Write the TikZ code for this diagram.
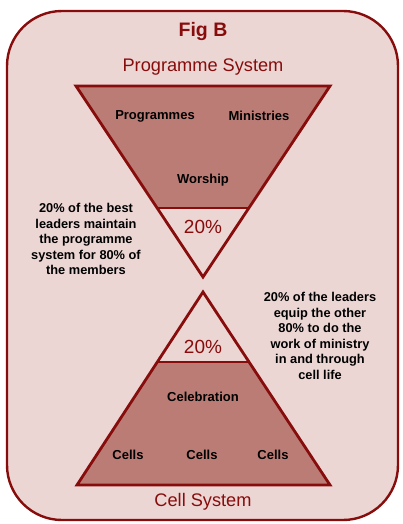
\documentclass[tikz,border=0pt]{standalone}
\usepackage{fontspec}
\setmainfont{Liberation Sans}
\definecolor{framered}{RGB}{135,12,12}
\definecolor{paper}{RGB}{236,214,212}
\definecolor{band}{RGB}{188,124,118}
\begin{document}
\begin{tikzpicture}[x=1pt,y=-1pt,
  title/.style={text=framered,font=\bfseries\fontsize{19.5}{21}\selectfont},
  system/.style={text=framered,font=\fontsize{18.2}{20}\selectfont},
  pct/.style={text=framered,font=\fontsize{19}{21}\selectfont},
  label/.style={text=black,font=\bfseries\fontsize{13}{15.5}\selectfont},
  note/.style={text=black,font=\bfseries\fontsize{12.8}{15.5}\selectfont,align=center},
  outline/.style={draw=framered,line width=2.8pt,line join=miter}]
\useasboundingbox (0,0) rectangle (403,524);
% outer frame
\draw[draw=framered,fill=paper,line width=2.4pt,rounded corners=55pt] (7,11) rectangle (398,520);

% programme system funnel (inverted triangle)
\coordinate (tl) at (76,86);
\coordinate (tr) at (330,86);
\coordinate (tapex) at (203,277);
\coordinate (tdl) at (157.5,208);
\coordinate (tdr) at (248.5,208);
\fill[band] (tl) -- (tr) -- (tdr) -- (tdl) -- cycle;
\draw[outline] (tl) -- (tr) -- (tapex) -- cycle;
\draw[outline] (tdl) -- (tdr);

% cell system pyramid
\coordinate (bapex) at (203,292);
\coordinate (bl) at (77,485);
\coordinate (br) at (330,485);
\coordinate (bdl) at (157.5,362);
\coordinate (bdr) at (248.5,362);
\fill[band] (bdl) -- (bdr) -- (br) -- (bl) -- cycle;
\draw[outline] (bapex) -- (br) -- (bl) -- cycle;
\draw[outline] (bdl) -- (bdr);

% texts
\node[title] (fig) at (203,32) {Fig B};
\node[system] (prog) at (203,67) {Programme System};
\node[label] (programmes) at (155,116) {Programmes};
\node[label] (ministries) at (259,116) {Ministries};
\node[label] (worship) at (203,180) {Worship};
\node[pct] (toppct) at (203,227) {20\%};
\node[note] (leftnote) at (86,239) {20\% of the best\\leaders maintain\\the programme\\system for 80\% of\\the members};
\node[note] (rightnote) at (320,336) {20\% of the leaders\\equip the other\\80\% to do the\\work of ministry\\in and through\\cell life};
\node[pct] (botpct) at (203,347) {20\%};
\node[label] (celebration) at (203,397) {Celebration};
\node[label] (cells1) at (128,455) {Cells};
\node[label] (cells2) at (202,455) {Cells};
\node[label] (cells3) at (273,455) {Cells};
\node[system] (cellsys) at (203,502) {Cell System};
\end{tikzpicture}
\end{document}
